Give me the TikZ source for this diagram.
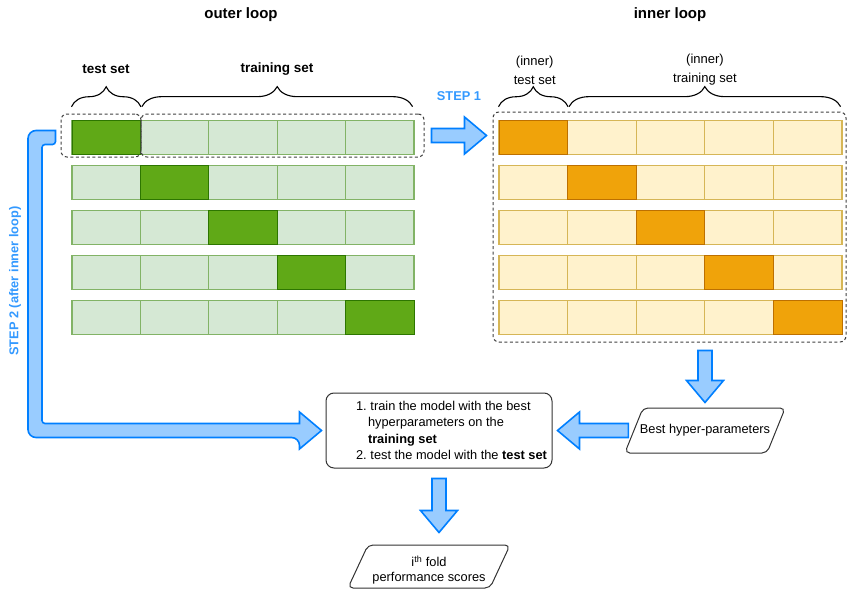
\documentclass[tikz,border=0pt]{standalone}
\usepackage{fontspec}
\setmainfont{Liberation Sans}
\usetikzlibrary{calc,shapes.geometric,decorations.pathreplacing}

\definecolor{trainfill}{HTML}{D5E8D4}
\definecolor{traindraw}{HTML}{82B366}
\definecolor{testfill}{HTML}{60A917}
\definecolor{testdraw}{HTML}{2D7600}
\definecolor{itrainfill}{HTML}{FFF2CC}
\definecolor{itraindraw}{HTML}{D6B656}
\definecolor{itestfill}{HTML}{F0A30A}
\definecolor{itestdraw}{HTML}{BD7000}
\definecolor{arrowfill}{HTML}{99CCFF}
\definecolor{arrowdraw}{HTML}{007FFF}
\definecolor{steptext}{HTML}{3399FF}

\tikzset{
  cell/.style={rectangle, minimum width=68.4, minimum height=34.5, inner sep=0, line width=1.2},
  otrain/.style={cell, fill=trainfill, draw=traindraw},
  otest/.style={cell, fill=testfill, draw=testdraw, line width=1},
  itrain/.style={cell, minimum width=68.6, fill=itrainfill, draw=itraindraw},
  itest/.style={cell, minimum width=68.6, fill=itestfill, draw=itestdraw, line width=1},
  dashbox/.style={draw=black!75, dash pattern=on 3pt off 2.5pt, line width=1, rounded corners=6, inner sep=0},
  brace/.style={decorate, decoration={brace, amplitude=20}, line width=1.1},
  fatarrow/.style={draw=arrowdraw, fill=arrowfill, line width=1.6, line join=miter},
  title/.style={font=\fontsize{15}{18}\selectfont\bfseries},
  setlabel/.style={font=\fontsize{13.5}{16}\selectfont\bfseries},
  innerlabel/.style={font=\fontsize{13}{19}\selectfont, align=center},
  steplabel/.style={font=\fontsize{12.8}{15}\selectfont\bfseries, text=steptext},
  process/.style={draw=black!80, rounded corners=8, line width=1, minimum width=226, minimum height=75, font=\fontsize{12.8}{16.3}\selectfont},
  data/.style={trapezium, trapezium left angle=#1, trapezium right angle=180-#1,
    draw=black!80, rounded corners=5, line width=1, inner sep=0, font=\fontsize{12.8}{15}\selectfont},
  data/.default=68
}

\newcommand\blockarrow[2]{%
  \coordinate (hb) at ($(#2)!22pt!(#1)$);
  \draw[fatarrow] ($(#1)!7pt!90:(#2)$) -- ($(hb)!7pt!-90:(#1)$) -- ($(hb)!18.5pt!-90:(#1)$) -- (#2)
    -- ($(hb)!18.5pt!90:(#1)$) -- ($(hb)!7pt!90:(#1)$) -- ($(#1)!7pt!-90:(#2)$) -- cycle;}

\begin{document}
\begin{tikzpicture}[x=1pt, y=-1pt]
  \useasboundingbox (0,0) rectangle (847,589);

  \node[title] (outer) at (241,15) {outer loop};
  \node[title] (inner) at (670,15) {inner loop};
  \node[setlabel] (tslbl) at (106,69) {test set};
  \node[setlabel] (trlbl) at (277,69) {training set};
  \node[innerlabel] (itslbl) at (534.7,70) {(inner)\\test set};
  \node[innerlabel] (itrlbl) at (705,70) {(inner)\\training set};
  \node[steplabel] (st1lbl) at (459,96) {STEP 1};
  \node[steplabel, rotate=90] (st2lbl) at (15,281) {STEP 2 (after inner loop)};

  \foreach \r in {1,...,5}{
    \foreach \c in {1,...,5}{
      \node[otrain] (o\r\c) at ({72+68.4*(\c-0.5)},{137.5+45*(\r-1)}) {};
      \node[itrain] (i\r\c) at ({499+68.6*(\c-0.5)},{137.5+45*(\r-1)}) {};
    }
  }
  \foreach \r in {1,...,5}{
    \node[otest] (o\r\r) at ({72+68.4*(\r-0.5)},{137.5+45*(\r-1)}) {};
    \node[itest] (i\r\r) at ({499+68.6*(\r-0.5)},{137.5+45*(\r-1)}) {};
  }

  \node[dashbox, minimum width=80, minimum height=43] (tsbox) at (101,135.5) {};
  \node[dashbox, minimum width=283, minimum height=43] (trbox) at (282.5,135.5) {};
  \node[dashbox, minimum width=353, minimum height=230] (inbox) at (669.5,227) {};

  \draw[brace] ($(o11.north west)+(0,-13)$) -- ($(o11.north east)+(0,-13)$);
  \draw[brace] ($(o12.north west)+(2,-13)$) -- ($(o15.north east)+(-2,-13)$);
  \draw[brace] ($(i11.north west)+(0,-13)$) -- ($(i11.north east)+(0,-13)$);
  \draw[brace] ($(i12.north west)+(2,-13)$) -- ($(i15.north east)+(-2,-13)$);

  \node[process] (main) at (439,430.5) {\parbox{200pt}{\raggedright
    \makebox[14.5pt][l]{1.}train the model with the best\\
    \hspace*{12pt}hyperparameters on the\\
    \hspace*{12pt}\textbf{training set}\\
    \makebox[14.5pt][l]{2.}test the model with the \textbf{test set}}\kern-34pt};
  \node[data] (best) at (705,430.5)
    {\parbox[c][45pt][c]{124pt}{\makebox[124pt]{Best hyper-parameters}}};
  \node[data=65] (out) at (429,566.5)
    {\parbox[c][43pt][c]{122pt}{\centering\vspace*{7pt}i\textsuperscript{th} fold\\performance scores}};

  \coordinate (s1a) at ($(trbox.east)+(7,0)$);
  \coordinate (s1b) at ($(inbox.west |- trbox.east)+(-6,0)$);
  \coordinate (d1a) at ($(inbox.south -| best.north)+(0,8)$);
  \coordinate (d1b) at ($(best.north)+(0,-5)$);
  \coordinate (l1a) at ($(best.west)+(-5,0)$);
  \coordinate (l1b) at ($(main.east)+(5,0)$);
  \coordinate (d2a) at ($(main.south)+(0,10)$);
  \coordinate (d2b) at ($(main.south |- out.north)+(0,-12)$);
  \blockarrow{s1a}{s1b}
  \blockarrow{d1a}{d1b}
  \blockarrow{l1a}{l1b}
  \blockarrow{d2a}{d2b}

  \coordinate (st2a) at ($(tsbox.west)+(-5,2)$);
  \coordinate (st2b) at ($(main.west)+(-4,0)$);
  \coordinate (st2c) at (35,0);
  \draw[fatarrow, rounded corners=8]
    ($(st2a)+(0,-7)$) -- ($(st2c |- st2a)+(-7,-7)$) -- ($(st2c |- st2b)+(-7,7)$)
    -- ($(st2b)+(-22,7)$) [sharp corners] -- ($(st2b)+(-22,18.5)$) -- (st2b)
    -- ($(st2b)+(-22,-18.5)$) -- ($(st2b)+(-22,-7)$) [rounded corners=3]
    -- ($(st2c |- st2b)+(7,-7)$) -- ($(st2c |- st2a)+(7,7)$)
    -- ($(st2a)+(0,7)$) [sharp corners] -- cycle;
\end{tikzpicture}
\end{document}
